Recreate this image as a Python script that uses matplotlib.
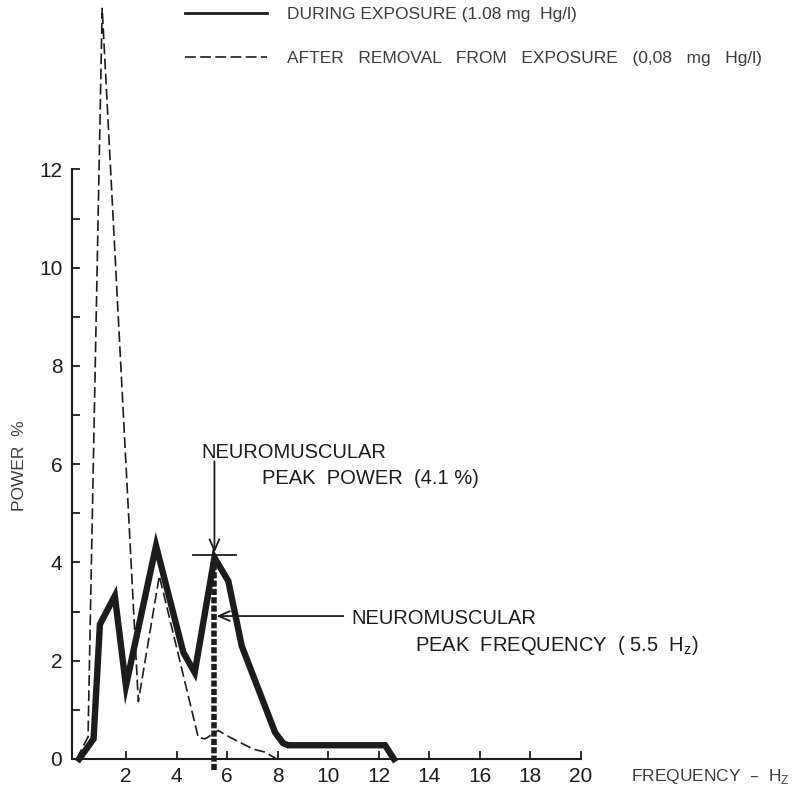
import matplotlib
matplotlib.use("Agg")
import matplotlib.pyplot as plt

plt.rcParams["font.family"] = ["Liberation Sans", "DejaVu Sans"]

# Power spectrum during exposure (solid)
freq_during = [0.15, 0.72, 0.97, 1.56, 2.0, 3.19, 4.27, 4.72, 5.5, 6.05, 6.58, 7.9, 8.22, 8.42, 12.25, 12.6]
power_during = [0.0, 0.41, 2.74, 3.32, 1.49, 4.34, 2.17, 1.76, 4.1, 3.62, 2.3, 0.54, 0.32, 0.28, 0.28, 0.0]

# Power spectrum after removal from exposure (dashed)
freq_after = [0.05, 0.5, 1.06, 2.49, 3.32, 4.86, 5.13, 5.65, 6.12, 7.04, 7.5, 7.96]
power_after = [0.0, 0.45, 15.28, 1.17, 3.73, 0.44, 0.41, 0.58, 0.44, 0.2, 0.14, 0.0]

# Neuromuscular peak
peak_freq = 5.5
peak_power = 4.1

x_ticks = [2, 4, 6, 8, 10, 12, 14, 16, 18, 20]
y_ticks = [0, 2, 4, 6, 8, 10, 12]
y_minor = [1, 3, 5, 7, 9, 11]

label_during = "DURING EXPOSURE (1.08 mg  Hg/l)"
label_after = "AFTER   REMOVAL   FROM   EXPOSURE   (0,08   mg   Hg/l)"

W, H = 802, 792
fig = plt.figure(figsize=(W / 100, H / 100), dpi=100)
ax = fig.add_axes([72 / W, 33 / H, (581 - 72) / W, 759 / H])
ax.set_xlim(-0.134, 20)
ax.set_ylim(0, 15.45)

ink = "#1c1c1c"
grey = "#3c3c3c"

dashed_line, = ax.plot(freq_after, power_after, color=ink, lw=1.2,
                       dashes=(6.5, 2.6), clip_on=False, zorder=2,
                       label=label_after)
solid_line, = ax.plot(freq_during, power_during, color=ink, lw=4.6,
                      solid_joinstyle="miter", clip_on=False, zorder=3,
                      label=label_during)

# Peak markers
ax.plot([peak_freq, peak_freq], [-0.22, peak_power], color=ink, lw=4.0,
        dashes=(1.1, 0.4), clip_on=False, zorder=4)
ax.plot([peak_freq - 0.86, peak_freq + 0.86], [peak_power + 0.05] * 2,
        color=ink, lw=1.3, zorder=4)

arrow_kw = dict(arrowstyle="->,head_length=0.8,head_width=0.35", color=ink,
                lw=1.3, shrinkA=0, shrinkB=0)
ax.annotate("", xy=(peak_freq, peak_power + 0.1), xytext=(peak_freq, 6.06),
            arrowprops=arrow_kw)
ax.annotate("", xy=(peak_freq + 0.08, 2.91), xytext=(10.6, 2.91),
            arrowprops=arrow_kw)

txt_kw = dict(fontsize=14.5, color=ink, ha="left", va="baseline")
ax.text(5.0, 6.13, "NEUROMUSCULAR", **txt_kw)
ax.text(7.37, 5.59, "PEAK  POWER  (4.1 %)", **txt_kw)
ax.text(10.93, 2.74, "NEUROMUSCULAR", **txt_kw)
ax.text(13.43, 2.20, "PEAK  FREQUENCY  ( 5.5  H$_\\mathregular{z}$)", **txt_kw)

# Axes styling
for side in ("top", "right"):
    ax.spines[side].set_visible(False)
for side in ("left", "bottom"):
    ax.spines[side].set_linewidth(1.5)
    ax.spines[side].set_color(ink)
ax.spines["left"].set_bounds(0, 12)
ax.spines["bottom"].set_bounds(-0.134, 20)

ax.set_xticks(x_ticks)
ax.set_xticklabels([str(v) for v in x_ticks])
ax.set_yticks(y_ticks)
ax.set_yticklabels([str(v) for v in y_ticks])
ax.set_yticks(y_minor, minor=True)
ax.tick_params(axis="both", which="both", direction="in", length=5.5,
               width=1.3, color=ink, labelsize=15, labelcolor=ink)
ax.tick_params(axis="x", pad=6)
ax.tick_params(axis="y", pad=7)

fig.text(20 / W, 1 - 466 / H, "POWER  %", rotation=90, fontsize=12.5,
         color=grey, ha="center", va="center")
fig.text(631 / W, 1 - 781 / H, "FREQUENCY  \u2013  H$_\\mathregular{Z}$",
         fontsize=12.5, color=grey, ha="left", va="baseline")

leg = ax.legend(handles=[solid_line, dashed_line],
                labels=[label_during, label_after],
                loc="upper left", bbox_to_anchor=(185 / W, 1 - 7 / H),
                bbox_transform=fig.transFigure, frameon=False,
                fontsize=12.5, handlelength=4.7, handletextpad=1.15,
                labelspacing=1.65, borderpad=0, borderaxespad=0)
for t in leg.get_texts():
    t.set_color(grey)
leg.legend_handles[0].set_linewidth(2.0)
leg.legend_handles[1].set_linewidth(1.2)

fig.savefig("out.png", dpi=100, facecolor="white")
